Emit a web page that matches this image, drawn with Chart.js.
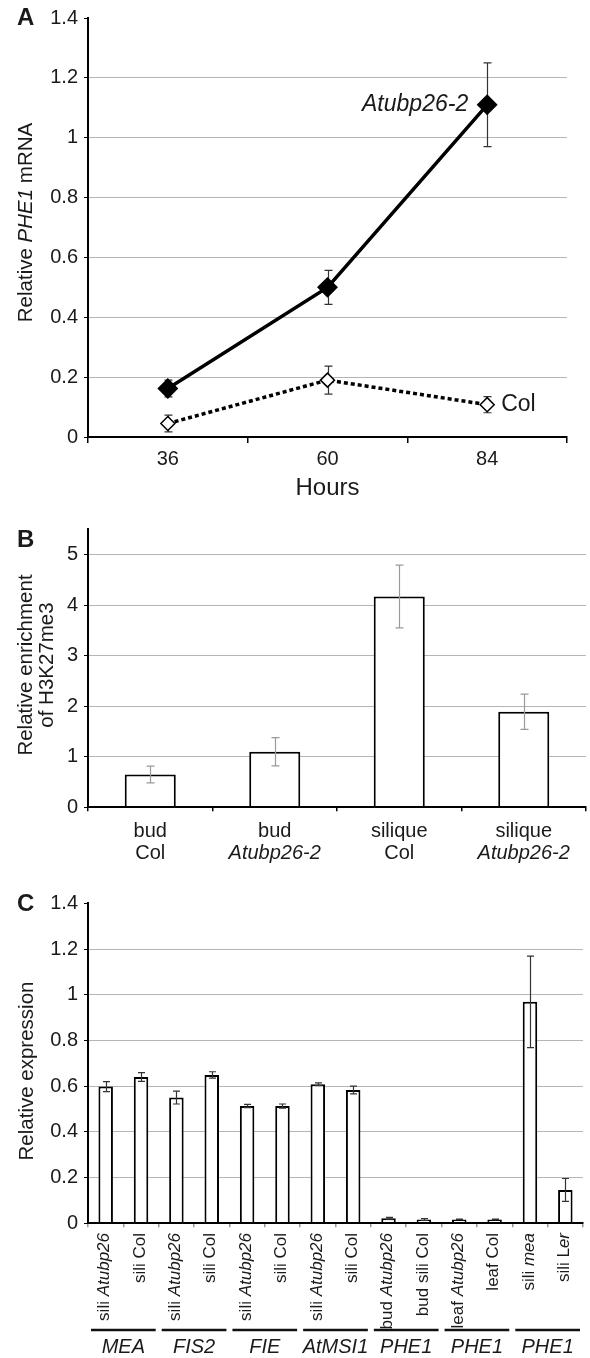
<!DOCTYPE html>
<html>
<head>
<meta charset="utf-8">
<script src="https://cdn.jsdelivr.net/npm/chart.js@4.4.0/dist/chart.umd.min.js"></script>
<style>
  body { margin: 0; background: #fff; }
  canvas { position: absolute; left: 0; }
</style>
</head>
<body>
<canvas id="chartA" width="590" height="503" style="top:0px"></canvas>
<canvas id="chartB" width="590" height="372" style="top:503px"></canvas>
<canvas id="chartC" width="590" height="483" style="top:875px"></canvas>
<script>
// panel A - PHE1 time course
const hours = ['36', '60', '84'];
const mutantMrna = [0.162, 0.50, 1.11];
const mutantMrnaErr = [0.028, 0.057, 0.14];
const colMrna = [0.045, 0.19, 0.108];
const colMrnaErr = [0.028, 0.047, 0.027];

// panel B - H3K27me3 ChIP
const chipTissue = ['bud', 'bud', 'silique', 'silique'];
const chipGenotype = ['Col', '*Atubp26-2*', 'Col', '*Atubp26-2*'];
const chipEnrichment = [0.65, 1.10, 4.17, 1.89];
const chipErr = [0.165, 0.28, 0.62, 0.35];

// panel C - expression ('*' marks italic text)
const exprSamples = ['sili *Atubp26*', 'sili Col', 'sili *Atubp26*', 'sili Col', 'sili *Atubp26*', 'sili Col',
  'sili *Atubp26*', 'sili Col', 'bud *Atubp26*', 'bud sili Col', 'leaf *Atubp26*', 'leaf Col', 'sili *mea*', 'sili L*er*'];
const exprValues = [0.598, 0.640, 0.550, 0.649, 0.513, 0.513, 0.608, 0.583, 0.022, 0.017, 0.017, 0.017, 0.969, 0.146];
const exprErr = [0.022, 0.019, 0.028, 0.014, 0.007, 0.009, 0.006, 0.017, 0.004, 0.004, 0.001, 0.001, 0.20, 0.05];
const exprGenes = ['MEA', 'FIS2', 'FIE', 'AtMSI1', 'PHE1', 'PHE1', 'PHE1'];

const FONT = "'Liberation Sans', Arial, Helvetica, sans-serif";
const INK = '#1a1a1a';
const GRID = '#b5b5b5';
Chart.defaults.font.family = FONT;
Chart.defaults.color = INK;

function splitItalic(str) {
  return str.split('*').map((t, i) => ({ t: t, it: i % 2 === 1 })).filter(p => p.t);
}

function richText(ctx, str, x, y, size, align, weight) {
  const segs = splitItalic(str);
  let total = 0;
  segs.forEach(s => {
    s.font = (s.it ? 'italic ' : '') + (weight || '') + ' ' + size + 'px ' + FONT;
    ctx.font = s.font;
    s.w = ctx.measureText(s.t).width;
    total += s.w;
  });
  let cx = align === 'right' ? x - total : align === 'center' ? x - total / 2 : x;
  ctx.textAlign = 'left';
  ctx.textBaseline = 'middle';
  ctx.fillStyle = INK;
  segs.forEach(s => {
    ctx.font = s.font;
    ctx.fillText(s.t, cx, y);
    cx += s.w;
  });
}

function rotatedText(ctx, str, x, y, size, align) {
  ctx.save();
  ctx.translate(x, y);
  ctx.rotate(-Math.PI / 2);
  richText(ctx, str, 0, 0, size, align);
  ctx.restore();
}

function errorBars(chart, dsIndex, errs, color, cap) {
  const meta = chart.getDatasetMeta(dsIndex);
  const yScale = chart.scales.y;
  const vals = chart.data.datasets[dsIndex].data;
  const ctx = chart.ctx;
  ctx.save();
  ctx.strokeStyle = color;
  ctx.lineWidth = 1.2;
  meta.data.forEach((el, i) => {
    const top = yScale.getPixelForValue(vals[i] + errs[i]);
    const bot = yScale.getPixelForValue(vals[i] - errs[i]);
    const x = Math.round(el.x) + 0.5;
    ctx.beginPath();
    ctx.moveTo(x, top); ctx.lineTo(x, bot);
    ctx.moveTo(x - cap, top); ctx.lineTo(x + cap, top);
    ctx.moveTo(x - cap, bot); ctx.lineTo(x + cap, bot);
    ctx.stroke();
  });
  ctx.restore();
}

function yAxis(max, step) {
  return {
    min: 0,
    max: max,
    ticks: { stepSize: step, includeBounds: false, color: INK, font: { size: 20 }, padding: 6,
      callback: v => String(+v.toFixed(1)) },
    grid: {
      color: c => (c.tick && c.tick.value > 1e-9 && c.tick.value < max - 1e-9) ? GRID : 'rgba(0,0,0,0)',
      tickColor: '#000', tickLength: 4, lineWidth: 1
    },
    border: { color: '#000', width: 2, z: 1 },
    afterFit: s => { s.width = 88; }
  };
}

function xAxis(height, showTicks, tickColor, tickLen) {
  return {
    offset: true,
    ticks: { display: showTicks, color: INK, font: { size: 20 }, padding: 4 },
    grid: { offset: true, drawOnChartArea: false, tickColor: tickColor, tickLength: tickLen, lineWidth: 1.5 },
    border: { color: '#000', width: 2, z: 1 },
    afterFit: s => { s.height = height; }
  };
}

// ---------- A ----------
new Chart(document.getElementById('chartA'), {
  type: 'line',
  data: {
    labels: hours,
    datasets: [
      { data: mutantMrna, borderColor: '#000', borderWidth: 3.5, pointStyle: 'rectRot', pointRadius: 8,
        pointBackgroundColor: '#000', pointBorderColor: '#000', tension: 0 },
      { data: colMrna, borderColor: '#000', borderWidth: 3.5, borderDash: [4, 3], pointStyle: 'rectRot', pointRadius: 7,
        pointBackgroundColor: '#fff', pointBorderColor: '#000', pointBorderWidth: 1.5, tension: 0 }
    ]
  },
  options: {
    responsive: false,
    animation: false,
    layout: { padding: { top: 13, right: 23, left: 0, bottom: 0 } },
    plugins: { legend: { display: false }, tooltip: { enabled: false } },
    scales: {
      x: Object.assign(xAxis(66, true, '#000', 6), {
        title: { display: true, text: 'Hours', font: { size: 24 }, color: INK, padding: 0 }
      }),
      y: yAxis(1.4, 0.2)
    }
  },
  plugins: [{
    id: 'decorA',
    beforeDatasetsDraw(chart) {
      errorBars(chart, 0, mutantMrnaErr, '#333', 4);
      errorBars(chart, 1, colMrnaErr, '#333', 4);
    },
    afterDraw(chart) {
      const ctx = chart.ctx;
      const m = chart.getDatasetMeta(0).data[2];
      const c = chart.getDatasetMeta(1).data[2];
      richText(ctx, '*Atubp26-2*', m.x - 19, m.y, 23, 'right');
      richText(ctx, 'Col', c.x + 14, c.y, 23, 'left');
      rotatedText(ctx, 'Relative *PHE1* mRNA', 26.5, 222.5, 20.5, 'center');
      richText(ctx, 'A', 17, 18.5, 24, 'left', 'bold');
    }
  }]
});

// ---------- B ----------
new Chart(document.getElementById('chartB'), {
  type: 'bar',
  data: {
    labels: chipTissue.map((t, i) => t + ' ' + chipGenotype[i]),
    datasets: [
      { data: chipEnrichment, backgroundColor: '#fff', borderColor: '#000', borderWidth: 2,
        categoryPercentage: 1, barPercentage: 0.41 }
    ]
  },
  options: {
    responsive: false,
    animation: false,
    layout: { padding: { top: 26.3, right: 4, left: 0, bottom: 0 } },
    plugins: { legend: { display: false }, tooltip: { enabled: false } },
    scales: {
      x: xAxis(372 - 304.3, false, '#000', 4),
      y: yAxis(5.5, 1)
    }
  },
  plugins: [{
    id: 'decorB',
    afterDatasetsDraw(chart) {
      errorBars(chart, 0, chipErr, '#9a9a9a', 4);
    },
    afterDraw(chart) {
      const ctx = chart.ctx;
      const xs = chart.scales.x;
      chipTissue.forEach((t, i) => {
        const x = xs.getPixelForValue(i);
        richText(ctx, t, x, 328.7, 20, 'center');
        richText(ctx, chipGenotype[i], x, 350.3, 20, 'center');
      });
      rotatedText(ctx, 'Relative enrichment', 26, 162, 20.5, 'center');
      rotatedText(ctx, 'of H3K27me3', 47, 162, 20.5, 'center');
      richText(ctx, 'B', 17, 37, 24, 'left', 'bold');
    }
  }]
});

// ---------- C ----------
new Chart(document.getElementById('chartC'), {
  type: 'bar',
  data: {
    labels: exprSamples,
    datasets: [
      { data: exprValues, backgroundColor: '#fff', borderColor: '#000', borderWidth: 2,
        categoryPercentage: 1, barPercentage: 0.41 }
    ]
  },
  options: {
    responsive: false,
    animation: false,
    layout: { padding: { top: 28.3, right: 7, left: 0, bottom: 0 } },
    plugins: { legend: { display: false }, tooltip: { enabled: false } },
    scales: {
      x: xAxis(483 - 348.3, false, '#999', 4),
      y: yAxis(1.4, 0.2)
    }
  },
  plugins: [{
    id: 'decorC',
    afterDatasetsDraw(chart) {
      errorBars(chart, 0, exprErr, '#333', 3.5);
    },
    afterDraw(chart) {
      const ctx = chart.ctx;
      const xs = chart.scales.x;
      exprSamples.forEach((s, i) => {
        rotatedText(ctx, s, xs.getPixelForValue(i) - 1, 358, 17, 'right');
      });
      const half = (xs.getPixelForValue(1) - xs.getPixelForValue(0)) / 2;
      ctx.save();
      ctx.strokeStyle = '#111';
      ctx.lineWidth = 2.5;
      exprGenes.forEach((g, k) => {
        const left = xs.getPixelForValue(2 * k) - half + 3;
        const right = xs.getPixelForValue(2 * k + 1) + half - 3;
        ctx.beginPath();
        ctx.moveTo(left, 455);
        ctx.lineTo(right, 455);
        ctx.stroke();
        richText(ctx, '*' + g + '*', (left + right) / 2, 472, 20, 'center');
      });
      ctx.restore();
      rotatedText(ctx, 'Relative expression', 27, 196, 20.5, 'center');
      richText(ctx, 'C', 17, 29.5, 24, 'left', 'bold');
    }
  }]
});
</script>
</body>
</html>
